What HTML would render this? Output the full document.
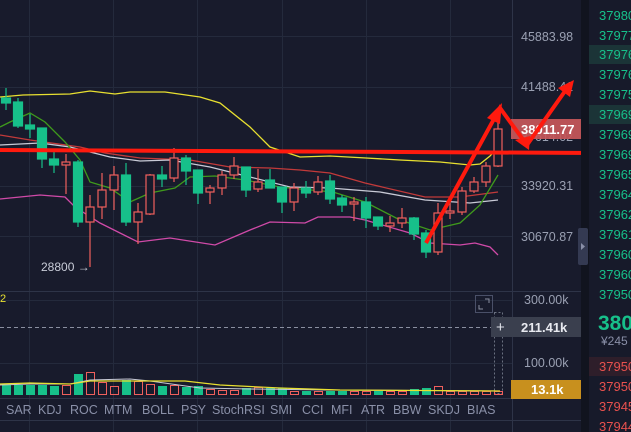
<!DOCTYPE html>
<html><head><meta charset="utf-8"><style>
html,body{margin:0;padding:0;background:#181b2c;overflow:hidden}
svg{display:block;font-family:"Liberation Sans",sans-serif}
</style></head><body>
<svg width="631" height="432" viewBox="0 0 631 432" xmlns="http://www.w3.org/2000/svg">
<rect width="631" height="432" fill="#181b2c"/>
<!-- grid -->
<g stroke="#242a3c" stroke-width="1">
<line x1="29.5" y1="0" x2="29.5" y2="432"/><line x1="113.5" y1="0" x2="113.5" y2="432"/>
<line x1="197.5" y1="0" x2="197.5" y2="432"/><line x1="282.5" y1="0" x2="282.5" y2="432"/>
<line x1="366.5" y1="0" x2="366.5" y2="432"/><line x1="450.5" y1="0" x2="450.5" y2="432"/>
<line x1="0" y1="36.5" x2="513" y2="36.5"/><line x1="0" y1="87.5" x2="513" y2="87.5"/>
<line x1="0" y1="186.5" x2="513" y2="186.5"/><line x1="0" y1="236.5" x2="513" y2="236.5"/>
<line x1="0" y1="300.5" x2="513" y2="300.5"/><line x1="0" y1="363.5" x2="513" y2="363.5"/>
</g>
<line x1="0" y1="291.5" x2="581" y2="291.5" stroke="#2e3448"/>
<line x1="0" y1="398.5" x2="581" y2="398.5" stroke="#2e3448"/>
<line x1="0" y1="420.5" x2="581" y2="420.5" stroke="#2e3448"/>
<line x1="512.5" y1="0" x2="512.5" y2="432" stroke="#2e3448"/>
<!-- MAs -->
<g fill="none" stroke-width="1.3">
<polyline stroke="#e8e030" points="0,97 23,95 70,94 90,91 115,94 130,92 165,92 200,97 220,103 250,127 270,147 300,157 330,156 366,158 400,160 440,162 470,165 480,164 490,156 500,145"/>
<polyline stroke="#d04aa8" points="0,199 40,195 65,197 75,207 100,223 138,242 170,238 215,245 250,230 270,222 305,223 318,217 350,217 365,220 410,233 430,243 460,245 475,243 490,247 498,255"/>
<polyline stroke="#c23a3a" points="0,135 30,140 80,147 105,153 140,158 190,160 230,167 270,168 300,170 330,173 365,183 425,197 460,197 498,192"/>
<polyline stroke="#c8cad6" points="0,145 40,143 70,147 110,157 140,161 170,160 210,167 250,177 290,187 330,188 380,192 425,200 470,203 498,200"/>
<polyline stroke="#3f9a1c" points="0,127 10,122 30,113 45,122 65,142 80,160 90,182 110,188 130,202 150,193 175,188 190,177 215,176 245,180 280,187 300,189 333,192 365,202 400,220 430,230 460,223 480,205 498,175"/>
</g>
<!-- candles -->
<g stroke-width="1.2">
<g fill="#17c08a" stroke="#17c08a">
<line x1="6" y1="88" x2="6" y2="110"/><rect x="1.5" y="98" width="9" height="5"/>
<line x1="18" y1="98" x2="18" y2="128"/><rect x="13.5" y="102" width="9" height="24"/>
<line x1="30" y1="114" x2="30" y2="138"/><rect x="25.5" y="125" width="9" height="4"/>
<line x1="42" y1="128" x2="42" y2="168"/><rect x="37.5" y="128" width="9" height="31"/>
<line x1="54" y1="150" x2="54" y2="173"/><rect x="49.5" y="159" width="9" height="6"/>
<line x1="78" y1="160" x2="78" y2="227"/><rect x="73.5" y="162" width="9" height="60"/>
<line x1="126" y1="163" x2="126" y2="226"/><rect x="121.5" y="175" width="9" height="47"/>
<line x1="162" y1="166" x2="162" y2="187"/><rect x="157.5" y="175" width="9" height="4"/>
<line x1="186" y1="155" x2="186" y2="185"/><rect x="181.5" y="158" width="9" height="13"/>
<line x1="198" y1="170" x2="198" y2="204"/><rect x="193.5" y="170" width="9" height="23"/>
<line x1="246" y1="167" x2="246" y2="197"/><rect x="241.5" y="167" width="9" height="23"/>
<line x1="270" y1="169" x2="270" y2="188"/><rect x="265.5" y="180" width="9" height="8"/>
<line x1="282" y1="187" x2="282" y2="213"/><rect x="277.5" y="187" width="9" height="15"/>
<line x1="306" y1="181" x2="306" y2="198"/><rect x="301.5" y="188" width="9" height="5"/>
<line x1="330" y1="175" x2="330" y2="204"/><rect x="325.5" y="181" width="9" height="18"/>
<line x1="342" y1="195" x2="342" y2="212"/><rect x="337.5" y="198" width="9" height="7"/>
<line x1="366" y1="197" x2="366" y2="228"/><rect x="361.5" y="202" width="9" height="16"/>
<line x1="378" y1="217" x2="378" y2="230"/><rect x="373.5" y="217" width="9" height="9"/>
<line x1="414" y1="217" x2="414" y2="240"/><rect x="409.5" y="218" width="9" height="16"/>
<line x1="426" y1="230" x2="426" y2="258"/><rect x="421.5" y="233" width="9" height="19"/>
</g>
<g fill="#181b2c" stroke="#f0605d">
<line x1="66" y1="154" x2="66" y2="194"/><rect x="62" y="162" width="8" height="3"/>
<line x1="90" y1="195" x2="90" y2="267"/><rect x="86" y="207" width="8" height="15"/>
<line x1="102" y1="173" x2="102" y2="219"/><rect x="98" y="190" width="8" height="17"/>
<line x1="114" y1="166" x2="114" y2="210"/><rect x="110" y="175" width="8" height="15"/>
<line x1="138" y1="203" x2="138" y2="244"/><rect x="134" y="212" width="8" height="10"/>
<line x1="150" y1="174" x2="150" y2="215"/><rect x="146" y="175" width="8" height="39"/>
<line x1="174" y1="148" x2="174" y2="182"/><rect x="170" y="158" width="8" height="20"/>
<line x1="210" y1="185" x2="210" y2="204"/><rect x="206" y="188" width="8" height="4"/>
<line x1="222" y1="171" x2="222" y2="195"/><rect x="218" y="175" width="8" height="13"/>
<line x1="234" y1="157" x2="234" y2="179"/><rect x="230" y="166" width="8" height="9"/>
<line x1="258" y1="169" x2="258" y2="192"/><rect x="254" y="182" width="8" height="7"/>
<line x1="294" y1="183" x2="294" y2="211"/><rect x="290" y="188" width="8" height="14"/>
<line x1="318" y1="176" x2="318" y2="195"/><rect x="314" y="182" width="8" height="10"/>
<line x1="354" y1="197" x2="354" y2="221"/><rect x="350" y="202" width="8" height="2"/>
<line x1="390" y1="216" x2="390" y2="232"/><rect x="386" y="223" width="8" height="3"/>
<line x1="402" y1="208" x2="402" y2="228"/><rect x="398" y="218" width="8" height="5"/>
<line x1="438" y1="203" x2="438" y2="255"/><rect x="434" y="213" width="8" height="39"/>
<line x1="450" y1="203" x2="450" y2="219"/><rect x="446" y="211" width="8" height="2"/>
<line x1="462" y1="187" x2="462" y2="215"/><rect x="458" y="191" width="8" height="21"/>
<line x1="474" y1="177" x2="474" y2="193"/><rect x="470" y="182" width="8" height="9"/>
<line x1="486" y1="162" x2="486" y2="187"/><rect x="482" y="166" width="8" height="16"/>
<line x1="498" y1="117" x2="498" y2="167"/><rect x="494" y="129" width="8" height="37"/>
</g>
</g>
<text x="41" y="271" font-size="12" fill="#c8ccd8">28800 →</text>
<!-- axis labels -->
<g font-size="12.5" fill="#9aa0b2">
<text x="521" y="41">45883.98</text><text x="521" y="91">41488.41</text>
<text x="521" y="190">33920.31</text><text x="521" y="241">30670.87</text>
<text x="521" y="141">37614.02</text>
<text x="524" y="304">300.00k</text><text x="524" y="367">100.00k</text>
</g>
<rect x="511" y="119" width="70" height="20" fill="#c8575a" opacity="0.92"/>
<text x="521" y="134" font-size="13" fill="#fff" font-weight="bold">38011.77</text>
<!-- red drawings -->
<g stroke="#ff1a0e" fill="#ff1a0e">
<line x1="0" y1="150" x2="595" y2="153" stroke-width="4"/>
<polygon points="606,153 590,146 590,160"/>
<polyline points="426,243 500,108 527,145 570,84" fill="none" stroke-width="4" stroke-linejoin="miter"/>
<polygon points="502,103 487,118 500,124" stroke="none"/>
<polygon points="529,150 515,140 530,136" stroke="none"/>
<polygon points="574,80 558,88 570,97" stroke="none"/>
</g>
<!-- volume pane -->
<line x1="0" y1="327.5" x2="493" y2="327.5" stroke="#8a8fa0" stroke-dasharray="4,3"/>
<rect x="475.5" y="295.5" width="17" height="17" fill="none" stroke="#4a5068"/>
<path d="M485,299h4v4M483,309h-4v-4" fill="none" stroke="#8a8fa0"/>
<rect x="494.5" y="312.5" width="8" height="81" fill="none" stroke="#6a7080" stroke-dasharray="2,2"/>
<rect x="491" y="317" width="90" height="20" fill="#3a3f4e"/>
<text x="496" y="332" font-size="15" fill="#e0e2ea">+</text>
<text x="521" y="332" font-size="13" fill="#e8eaf0" font-weight="bold">211.41k</text>
<rect x="511" y="380" width="70" height="19" fill="#c8901e"/>
<text x="531" y="394" font-size="13" fill="#fff" font-weight="bold">13.1k</text>
<text x="0" y="302" font-size="11" fill="#e8e030">2</text>
<g fill="#17c08a">
<rect x="2" y="385" width="9" height="10"/><rect x="14" y="385" width="9" height="10"/><rect x="26" y="385" width="9" height="10"/><rect x="38" y="385" width="9" height="10"/><rect x="50" y="386" width="9" height="9"/>
<rect x="74" y="374" width="9" height="21"/><rect x="122" y="380" width="9" height="15"/><rect x="158" y="386" width="9" height="9"/><rect x="182" y="387" width="9" height="8"/><rect x="194" y="386" width="9" height="9"/>
<rect x="242" y="388" width="9" height="7"/><rect x="266" y="388" width="9" height="7"/><rect x="278" y="388" width="9" height="7"/><rect x="302" y="391" width="9" height="4"/><rect x="326" y="391" width="9" height="4"/><rect x="338" y="391" width="9" height="4"/><rect x="374" y="391" width="9" height="4"/><rect x="410" y="389" width="9" height="6"/><rect x="422" y="388" width="9" height="7"/>
</g>
<g fill="none" stroke="#f0605d" stroke-width="1">
<rect x="62.5" y="385.5" width="8" height="9"/><rect x="86.5" y="372.5" width="8" height="22"/><rect x="98.5" y="382.5" width="8" height="12"/><rect x="110.5" y="386.5" width="8" height="8"/>
<rect x="134.5" y="381.5" width="8" height="13"/><rect x="146.5" y="384.5" width="8" height="10"/><rect x="170.5" y="385.5" width="8" height="9"/>
<rect x="206.5" y="389.5" width="8" height="5"/><rect x="218.5" y="390.5" width="8" height="4"/><rect x="230.5" y="390.5" width="8" height="4"/><rect x="254.5" y="387.5" width="8" height="7"/>
<rect x="290.5" y="391.5" width="8" height="3"/><rect x="314.5" y="391.5" width="8" height="3"/><rect x="350.5" y="391.5" width="8" height="3"/><rect x="362.5" y="391.5" width="8" height="3"/>
<rect x="386.5" y="391.5" width="8" height="3"/><rect x="398.5" y="391.5" width="8" height="3"/><rect x="434.5" y="386.5" width="8" height="8"/>
<rect x="446.5" y="391.5" width="8" height="3"/><rect x="458.5" y="391.5" width="8" height="3"/><rect x="470.5" y="391.5" width="8" height="3"/><rect x="482.5" y="391.5" width="8" height="3"/><rect x="494.5" y="391.5" width="8" height="3"/>
</g>
<polyline fill="none" stroke="#c8cad6" stroke-width="1" points="0,385 30,384 70,384 90,380 130,379 150,381 200,388 250,389 330,390 500,391"/>
<polyline fill="none" stroke="#e8e030" stroke-width="1.2" points="0,384 30,383 70,384 90,381 130,381 185,381 220,385 280,388 340,390 500,391"/>
<!-- tabs -->
<g font-size="12.5" fill="#8a90a8">
<text x="6" y="414">SAR</text><text x="38" y="414">KDJ</text><text x="70" y="414">ROC</text><text x="104" y="414">MTM</text><text x="142" y="414">BOLL</text><text x="181" y="414">PSY</text><text x="212" y="414">StochRSI</text><text x="270" y="414">SMI</text><text x="302" y="414">CCI</text><text x="331" y="414">MFI</text><text x="361" y="414">ATR</text><text x="393" y="414">BBW</text><text x="428" y="414">SKDJ</text><text x="467" y="414">BIAS</text>
</g>
<!-- divider & right panel -->
<rect x="581" y="0" width="8" height="432" fill="#11141f"/>
<rect x="578" y="228" width="10" height="37" rx="2" fill="#343a52"/>
<path d="M581,243l4,3.5l-4,3.5z" fill="#8a90a8"/>
<rect x="589" y="0" width="42" height="432" fill="#171a2a"/>
<rect x="589" y="45" width="42" height="19" fill="#1b3437"/>
<rect x="589" y="105" width="42" height="19" fill="#1b3437"/>
<rect x="589" y="357" width="42" height="19" fill="#2e1e2a"/>
<g font-size="13" fill="#17c08a">
<text x="599" y="20">37980</text><text x="599" y="40">37977</text><text x="599" y="59">37976</text><text x="599" y="79">37976</text><text x="599" y="99">37975</text><text x="599" y="119">37969</text><text x="599" y="139">37969</text><text x="599" y="159">37969</text><text x="599" y="179">37965</text><text x="599" y="199">37964</text><text x="599" y="219">37962</text><text x="599" y="239">37961</text><text x="599" y="259">37960</text><text x="599" y="279">37960</text><text x="599" y="299">37950</text>
</g>
<text x="598" y="330" font-size="21" font-weight="bold" fill="#17c08a">380</text>
<text x="601" y="345" font-size="12" fill="#8a90a8">¥245</text>
<g font-size="13" fill="#e8514e">
<text x="599" y="371">37950</text><text x="599" y="391">37950</text><text x="599" y="411">37945</text><text x="599" y="431">37944</text>
</g>
</svg>
</body></html>
